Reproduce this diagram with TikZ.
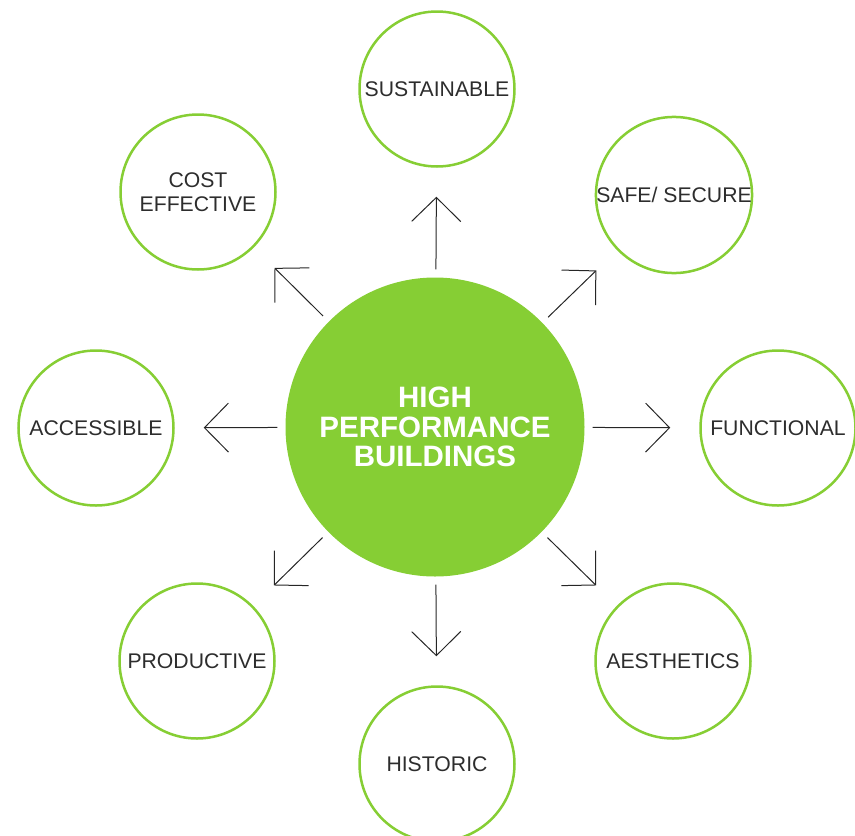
\documentclass[tikz,border=0pt]{standalone}
\usepackage{fontspec}
\setmainfont{Liberation Sans}
\usepackage{tikz}
\usetikzlibrary{arrows.meta,positioning}

\definecolor{hpgreen}{RGB}{134,206,52}
\definecolor{hptext}{RGB}{45,45,45}

\begin{document}
\begin{tikzpicture}[x=1pt,y=-1pt]

\tikzset{goal/.style={circle, draw=hpgreen, line width=2.5pt, fill=white,
                      minimum size=155pt, inner sep=0pt, align=center,
                      text=hptext, font=\fontsize{21.2}{24}\selectfont},
         hub/.style={circle, fill=hpgreen, minimum size=299pt, inner sep=0pt,
                     align=center, text=white,
                     font=\fontsize{29.5}{29.5}\selectfont\bfseries},
         push/.style={line width=1pt, draw=black!85,
                      -{Straight Barb[length=24pt,width=49pt,line width=1pt]},
                      shorten <=8pt, shorten >=29pt}}

\useasboundingbox (0,0) rectangle (855,836);

\node[hub] (hpb) at (435,427) {HIGH\\PERFORMANCE\\BUILDINGS};

\node[goal] (sus) at (437,89)  {SUSTAINABLE};
\node[goal] (saf) at (674,195) {SAFE/ SECURE};
\node[goal] (fun) at (778,428) {FUNCTIONAL};
\node[goal] (aes) at (673,661) {AESTHETICS};
\node[goal] (his) at (437,764) {HISTORIC};
\node[goal] (pro) at (197,661) {PRODUCTIVE};
\node[goal] (acc) at (96,428)  {ACCESSIBLE};
\node[goal] (cos) at (198,192) {COST\\EFFECTIVE};

% arrows out of the hub
\foreach \g in {sus,saf,fun,aes,his,pro,acc,cos}
  \draw[push] (hpb) -- (\g);

\end{tikzpicture}
\end{document}
